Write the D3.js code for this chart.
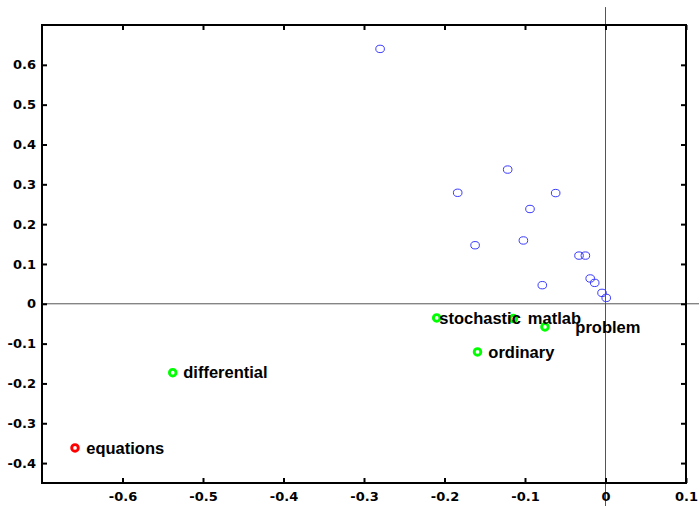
<!DOCTYPE html>
<html>
<head>
<meta charset="utf-8">
<script src="https://cdn.jsdelivr.net/npm/d3@7"></script>
<style>
  html, body { margin: 0; padding: 0; background: #fff; }
  svg { display: block; }
</style>
</head>
<body>
<svg id="chart" width="699" height="506"></svg>
<script>
// ---- data ----
const blueX = [-0.280, -0.1215, -0.1836, -0.0619, -0.0938, -0.162, -0.102, -0.0329, -0.025, -0.0785, -0.019, -0.0134, -0.0043, 0.0009];
const blueY = [0.640, 0.337, 0.2787, 0.278, 0.238, 0.147, 0.159, 0.121, 0.121, 0.0467, 0.0636, 0.0525, 0.0274, 0.0148];

const termNames = ["stochastic", "matlab", "problem", "ordinary", "differential", "equations"];
const termX = [-0.2097, -0.1145, -0.0752, -0.159, -0.5376, -0.659];
const termY = [-0.0354, -0.037, -0.058, -0.121, -0.173, -0.362];
const termGroup = ["other", "other", "other", "other", "other", "query"];
// text anchor points (data coordinates, as placed with text(x,y,...))
const labelX = [-0.2065, -0.0965, -0.0375, -0.1455, -0.5245, -0.6450];
const labelY = [-0.0354, -0.037, -0.058, -0.121, -0.173, -0.362];

const xTicks = [-0.6, -0.5, -0.4, -0.3, -0.2, -0.1, 0, 0.1];
const yTicks = [-0.4, -0.3, -0.2, -0.1, 0, 0.1, 0.2, 0.3, 0.4, 0.5, 0.6];
const xDomain = [-0.7, 0.1];
const yDomain = [-0.45, 0.7];
const hLineX = [-0.7, 0.117];   // zero line extent (x)
const vLineY = [-0.51, 0.745];  // zero line extent (y)

// ---- layout ----
const svg = d3.select("#chart");
const mL = 42, mR = 686, mT = 25, mB = 483;
const x = d3.scaleLinear().domain(xDomain).range([mL, mR]);
const y = d3.scaleLinear().domain(yDomain).range([mB, mT]);

const tickFont = "'DejaVu Sans', sans-serif";
const labelFont = "'Liberation Sans', Arial, sans-serif";

// zero lines
svg.append("line")
  .attr("x1", x(hLineX[0])).attr("x2", x(hLineX[1]))
  .attr("y1", y(0)).attr("y2", y(0))
  .attr("stroke", "#555").attr("stroke-width", 1);
svg.append("line")
  .attr("x1", x(0)).attr("x2", x(0))
  .attr("y1", y(vLineY[0])).attr("y2", y(vLineY[1]))
  .attr("stroke", "#555").attr("stroke-width", 1);

// axes (ticks inward on all four sides)
function styleAxis(g) {
  g.select(".domain").remove();
  g.selectAll(".tick line").attr("stroke", "#000").attr("stroke-width", 2);
  g.selectAll(".tick text")
    .attr("font-family", tickFont).attr("font-weight", "bold")
    .attr("font-size", 13).attr("fill", "#000");
}
const fmt = d => d === 0 ? "0" : d.toFixed(1);
svg.append("g").attr("transform", `translate(0,${mB})`)
  .call(d3.axisBottom(x).tickValues(xTicks).tickSize(-5).tickPadding(9).tickFormat(fmt))
  .call(styleAxis);
svg.append("g").attr("transform", `translate(0,${mT})`)
  .call(d3.axisTop(x).tickValues(xTicks).tickSize(-5).tickFormat(""))
  .call(styleAxis);
svg.append("g").attr("transform", `translate(${mL},0)`)
  .call(d3.axisLeft(y).tickValues(yTicks).tickSize(-5).tickPadding(6).tickFormat(fmt))
  .call(styleAxis);
svg.append("g").attr("transform", `translate(${mR},0)`)
  .call(d3.axisRight(y).tickValues(yTicks).tickSize(-5).tickFormat(""))
  .call(styleAxis);

// box
svg.append("rect")
  .attr("x", mL).attr("y", mT)
  .attr("width", mR - mL).attr("height", mB - mT)
  .attr("fill", "none").attr("stroke", "#000").attr("stroke-width", 2);

// blue document points
svg.append("g").selectAll("ellipse").data(d3.range(blueX.length)).join("ellipse")
  .attr("cx", i => x(blueX[i])).attr("cy", i => y(blueY[i]))
  .attr("rx", 4.3).attr("ry", 3.7)
  .attr("fill", "none").attr("stroke", "#3a3aff").attr("stroke-width", 1);

// term points
const colorOf = g => g === "query" ? "#ff0000" : "#00ff00";
svg.append("g").selectAll("circle").data(d3.range(termNames.length)).join("circle")
  .attr("cx", i => x(termX[i])).attr("cy", i => y(termY[i]))
  .attr("r", 3.3)
  .attr("fill", "none").attr("stroke", i => colorOf(termGroup[i])).attr("stroke-width", 2.9);

// labels
svg.append("g").selectAll("text").data(d3.range(termNames.length)).join("text")
  .attr("x", i => x(labelX[i])).attr("y", i => y(labelY[i]))
  .attr("dy", "0.35em")
  .attr("font-family", labelFont).attr("font-weight", "bold")
  .attr("font-size", 16.5).attr("fill", "#000")
  .text(i => termNames[i]);
</script>
</body>
</html>
